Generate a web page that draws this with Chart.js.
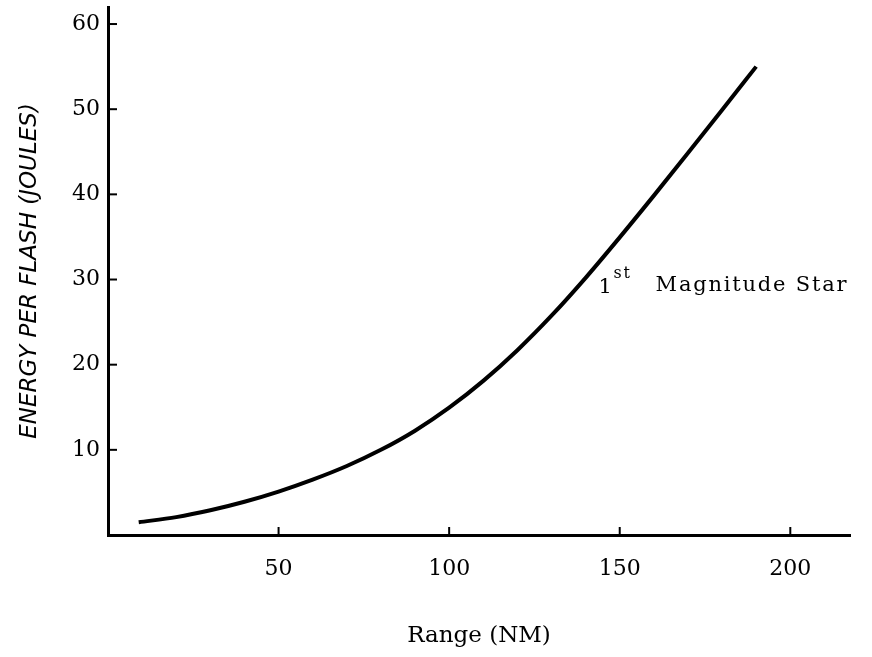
<!DOCTYPE html>
<html>
<head>
<meta charset="utf-8">
<script src="https://cdn.jsdelivr.net/npm/chart.js@4.4.1/dist/chart.umd.min.js"></script>
<style>
  html, body { margin: 0; padding: 0; background: #ffffff; }
  #wrap { width: 872px; height: 657px; position: relative; }
</style>
</head>
<body>
<div id="wrap"><canvas id="c" width="872" height="657"></canvas></div>
<script>
// Data
const rangeNM = [9, 20, 30, 40, 50, 60, 70, 80, 90, 100, 110, 120, 130, 140, 150, 160, 170, 180, 190];
const energyJ = [1.5, 2.1, 2.9, 3.9, 5.1, 6.5, 8.1, 10.0, 12.25, 14.95, 18.1, 21.7, 25.75, 30.2, 34.95, 39.85, 44.85, 49.9, 55.0];
const xTicks = [50, 100, 150, 200];
const yTicks = [10, 20, 30, 40, 50, 60];
const xTitle = 'Range (NM)';
const yTitle = 'ENERGY PER FLASH (JOULES)';
const noteAnchor = { x: 143.8, y: 29.5 };
const noteMain = '1';
const noteSup = 'st';
const noteRest = 'Magnitude Star';

const serif = '"DejaVu Serif", "Liberation Serif", serif';

const inwardTicks = {
  id: 'inwardTicks',
  afterDraw(chart) {
    const { ctx, chartArea, scales } = chart;
    ctx.save();
    ctx.strokeStyle = '#000';
    ctx.lineWidth = 2;
    yTicks.forEach(v => {
      const p = scales.y.getPixelForValue(v);
      ctx.beginPath();
      ctx.moveTo(chartArea.left, p);
      ctx.lineTo(chartArea.left + 9, p);
      ctx.stroke();
    });
    xTicks.forEach(v => {
      const p = scales.x.getPixelForValue(v);
      ctx.beginPath();
      ctx.moveTo(p, chartArea.bottom);
      ctx.lineTo(p, chartArea.bottom - 8);
      ctx.stroke();
    });
    // annotation
    const ax = scales.x.getPixelForValue(noteAnchor.x);
    const ay = scales.y.getPixelForValue(noteAnchor.y);
    ctx.letterSpacing = '1.8px';
    ctx.fillStyle = '#000';
    ctx.textBaseline = 'middle';
    ctx.textAlign = 'left';
    ctx.font = '21px ' + serif;
    ctx.fillText(noteMain, ax, ay + 4);
    ctx.font = '16px ' + serif;
    ctx.fillText(noteSup, ax + 15, ay - 10);
    ctx.font = '21px ' + serif;
    ctx.fillText(noteRest, ax + 57, ay + 2);
    ctx.restore();
  }
};

new Chart(document.getElementById('c'), {
  type: 'scatter',
  data: {
    datasets: [{
      data: rangeNM.map((x, i) => ({ x: x, y: energyJ[i] })),
      showLine: true,
      borderColor: '#000',
      borderWidth: 4,
      pointRadius: 0,
      cubicInterpolationMode: 'monotone',
      fill: false
    }]
  },
  options: {
    responsive: false,
    animation: false,
    layout: { padding: { left: 0, right: 22, top: 7, bottom: 0 } },
    plugins: { legend: { display: false }, tooltip: { enabled: false } },
    scales: {
      x: {
        type: 'linear',
        min: 0,
        max: 217.5,
        afterBuildTicks: s => { s.ticks = xTicks.map(v => ({ value: v })); },
        afterFit: s => { s.height = 122; s.paddingLeft = 0; s.paddingRight = 0; },
        grid: { display: false, drawTicks: false },
        border: { display: true, color: '#000', width: 3 },
        ticks: { color: '#000', font: { family: serif, size: 22 }, padding: 21, maxRotation: 0 },
        title: { display: true, text: xTitle, color: '#000', font: { family: serif, size: 23 }, padding: { top: 0, bottom: 7 } }
      },
      y: {
        type: 'linear',
        min: 0,
        max: 62,
        afterBuildTicks: s => { s.ticks = yTicks.map(v => ({ value: v })); },
        afterFit: s => { s.width = 108; s.paddingTop = 0; s.paddingBottom = 0; },
        grid: { display: false, drawTicks: false },
        border: { display: true, color: '#000', width: 3 },
        ticks: { color: '#000', font: { family: serif, size: 22 }, padding: 8 },
        title: { display: true, text: yTitle, color: '#000', font: { family: '"DejaVu Sans", sans-serif', size: 23, style: 'italic' }, padding: { top: 16, bottom: 0 } }
      }
    }
  },
  plugins: [inwardTicks]
});
</script>
</body>
</html>
